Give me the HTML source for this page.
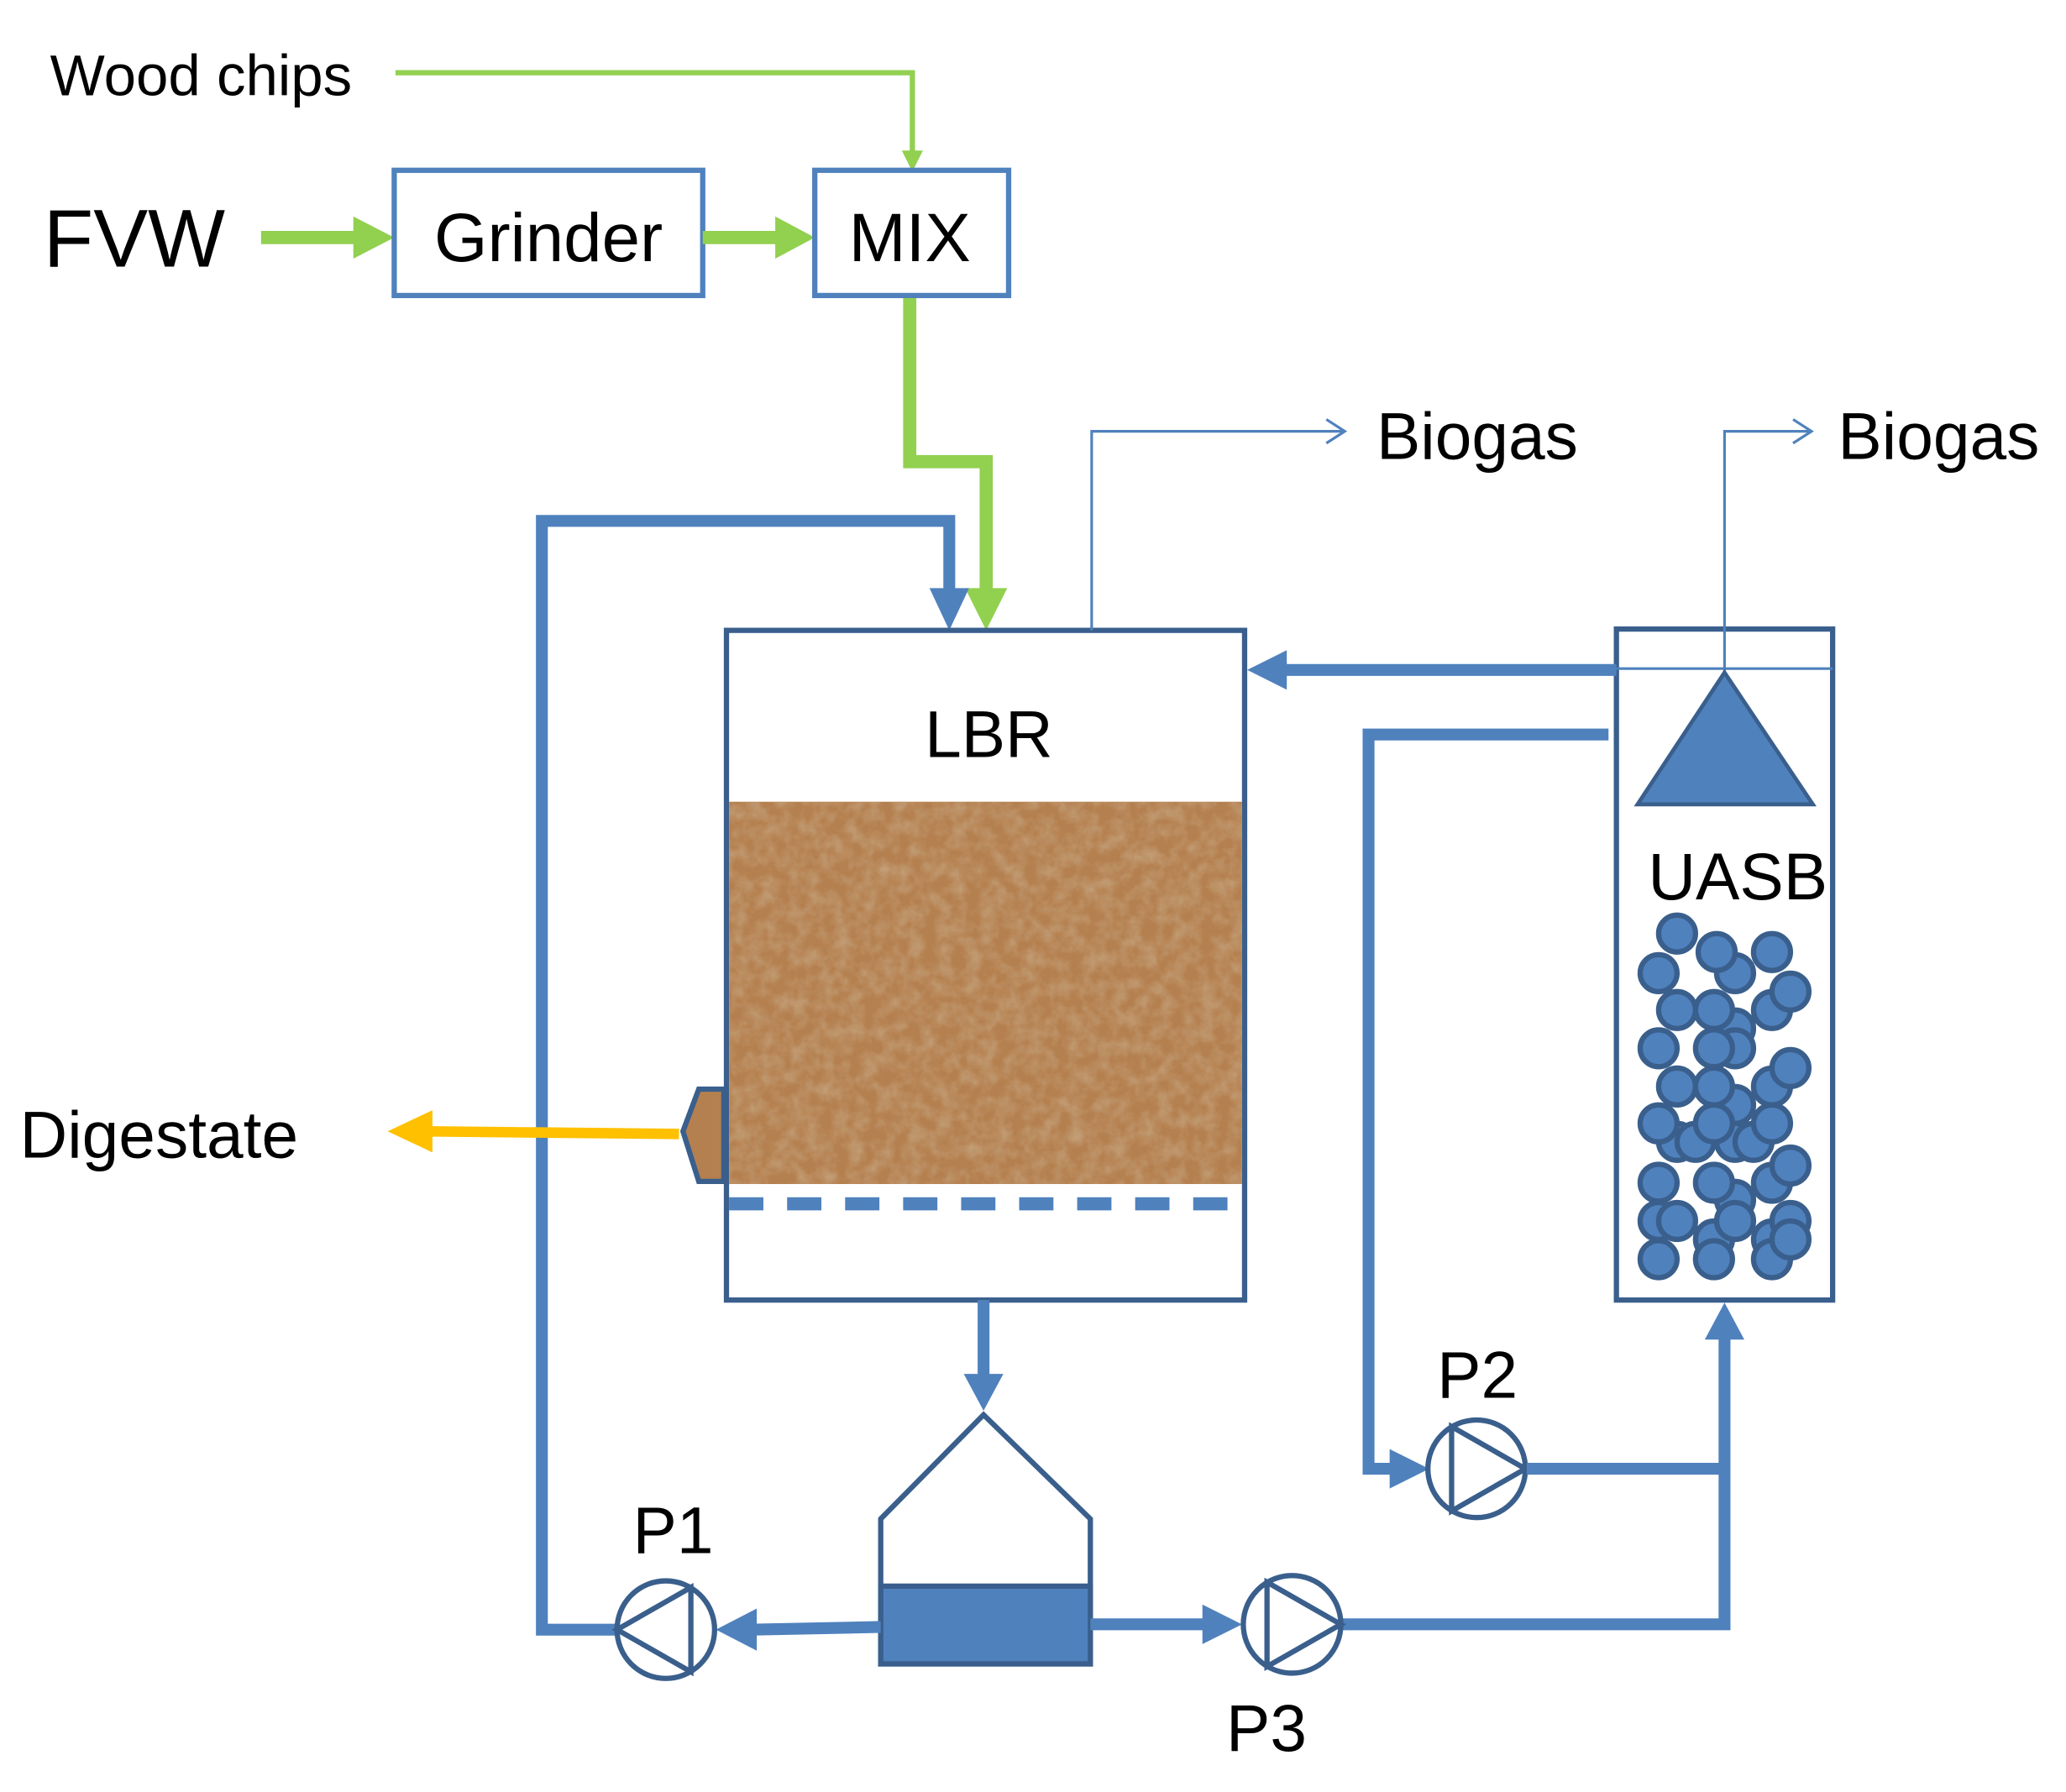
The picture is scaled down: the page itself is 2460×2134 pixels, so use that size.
<!DOCTYPE html>
<html><head><meta charset="utf-8"><style>
html,body{margin:0;padding:0;background:#fff}
svg{display:block}
text{font-family:"Liberation Sans","DejaVu Sans",sans-serif;fill:#000}
</style></head><body>
<svg width="2460" height="2134" viewBox="0 0 1567 1359" xmlns="http://www.w3.org/2000/svg">
<defs>
<filter id="tex" x="0" y="0" width="100%" height="100%">
<feTurbulence type="fractalNoise" baseFrequency="0.09" numOctaves="3" seed="4" result="n"/>
<feColorMatrix in="n" type="matrix" values="0 0 0 0 0.55  0 0 0 0 0.36  0 0 0 0 0.20  0 0 0 -1.6 1.05" result="c"/>
<feComposite in="c" in2="SourceGraphic" operator="in"/>
</filter>
</defs>
<text x="38" y="72" font-size="44">Wood chips</text>
<polyline points="300,55 692,55 692,118" fill="none" stroke="#92d050" stroke-width="4"/>
<polygon points="684,114 700,114 692,130" fill="#92d050"/>
<text x="33" y="202" font-size="62">FVW</text>
<line x1="198" y1="180" x2="272" y2="180" stroke="#92d050" stroke-width="10"/>
<polygon points="268,164 299,180 268,196" fill="#92d050"/>
<rect x="299" y="129" width="234" height="95" fill="#fff" stroke="#4f81bd" stroke-width="4"/>
<text x="416" y="198" font-size="52" text-anchor="middle">Grinder</text>
<line x1="533" y1="180" x2="592" y2="180" stroke="#92d050" stroke-width="10"/>
<polygon points="588,164 618,180 588,196" fill="#92d050"/>
<rect x="618" y="129" width="147" height="95" fill="#fff" stroke="#4f81bd" stroke-width="4"/>
<text x="690" y="198" font-size="52" text-anchor="middle">MIX</text>
<polyline points="690,226 690,350 748,350 748,452" fill="none" stroke="#92d050" stroke-width="10"/>
<polygon points="732,446 764,446 748,478" fill="#92d050"/>
<polyline points="470,1236 411,1236 411,395 720,395 720,452" fill="none" stroke="#4f81bd" stroke-width="9"/>
<polygon points="705,446 735,446 720,478" fill="#4f81bd"/>
<rect x="551" y="478" width="393" height="508" fill="#fff" stroke="#3a5f8c" stroke-width="4"/>
<rect x="553" y="608" width="389" height="290" fill="#b5804f"/>
<rect x="553" y="608" width="389" height="290" fill="#b5804f" filter="url(#tex)"/>
<text x="750" y="574" font-size="50" text-anchor="middle">LBR</text>
<line x1="553" y1="913" x2="942" y2="913" stroke="#4f81bd" stroke-width="10" stroke-dasharray="26,18"/>
<polygon points="549,826 530,826 518,858 530,896 549,896" fill="#b5804f" stroke="#3a5f8c" stroke-width="4"/>
<line x1="515" y1="860" x2="320" y2="858" stroke="#ffc000" stroke-width="8"/>
<polygon points="328,842 294,858 328,874" fill="#ffc000"/>
<text x="15" y="878" font-size="50">Digestate</text>
<polyline points="828,478 828,327 1018,327" fill="none" stroke="#4f81bd" stroke-width="2"/>
<polyline points="1006,318 1020,327 1006,336" fill="none" stroke="#4f81bd" stroke-width="2"/>
<text x="1044" y="348" font-size="50">Biogas</text>
<rect x="1226" y="477" width="164" height="509" fill="#fff" stroke="#3a5f8c" stroke-width="4"/>
<line x1="1226" y1="507" x2="1390" y2="507" stroke="#4f81bd" stroke-width="2"/>
<polyline points="1308,510 1308,327 1372,327" fill="none" stroke="#4f81bd" stroke-width="2"/>
<polyline points="1360,318 1374,327 1360,336" fill="none" stroke="#4f81bd" stroke-width="2"/>
<text x="1394" y="348" font-size="50">Biogas</text>
<polygon points="1242,610 1308,510 1375,610" fill="#4f81bd" stroke="#3a5f8c" stroke-width="3"/>
<text x="1250" y="682" font-size="50">UASB</text>
<g fill="#4f81bd" stroke="#3a5f8c" stroke-width="4">
<circle cx="1272" cy="708" r="14"/><circle cx="1316" cy="738" r="14"/><circle cx="1302" cy="722" r="14"/><circle cx="1344" cy="722" r="14"/>
<circle cx="1258" cy="738" r="14"/><circle cx="1344" cy="766" r="14"/><circle cx="1358" cy="752" r="14"/>
<circle cx="1272" cy="766" r="14"/><circle cx="1316" cy="780" r="14"/><circle cx="1300" cy="766" r="14"/>
<circle cx="1316" cy="795" r="14"/><circle cx="1300" cy="795" r="14"/><circle cx="1258" cy="795" r="14"/>
<circle cx="1344" cy="824" r="14"/><circle cx="1358" cy="810" r="14"/><circle cx="1272" cy="824" r="14"/>
<circle cx="1316" cy="838" r="14"/><circle cx="1300" cy="824" r="14"/>
<circle cx="1272" cy="866" r="14"/><circle cx="1286" cy="866" r="14"/><circle cx="1316" cy="866" r="14"/><circle cx="1330" cy="866" r="14"/>
<circle cx="1258" cy="852" r="14"/><circle cx="1300" cy="852" r="14"/><circle cx="1344" cy="852" r="14"/>
<circle cx="1316" cy="910" r="14"/><circle cx="1344" cy="897" r="14"/><circle cx="1358" cy="884" r="14"/>
<circle cx="1258" cy="897" r="14"/><circle cx="1300" cy="897" r="14"/>
<circle cx="1258" cy="926" r="14"/><circle cx="1300" cy="940" r="14"/><circle cx="1344" cy="940" r="14"/><circle cx="1358" cy="926" r="14"/>
<circle cx="1272" cy="926" r="14"/><circle cx="1316" cy="926" r="14"/>
<circle cx="1258" cy="955" r="14"/><circle cx="1300" cy="955" r="14"/><circle cx="1344" cy="955" r="14"/><circle cx="1358" cy="940" r="14"/>
</g>
<line x1="1226" y1="508" x2="972" y2="508" stroke="#4f81bd" stroke-width="9"/>
<polygon points="976,493 946,508 976,523" fill="#4f81bd"/>
<polyline points="1220,557 1038,557 1038,1114 1058,1114" fill="none" stroke="#4f81bd" stroke-width="9"/>
<polygon points="1054,1099 1084,1114 1054,1129" fill="#4f81bd"/>
<circle cx="1120" cy="1114" r="37" fill="#fff" stroke="#3a5f8c" stroke-width="4"/>
<polygon points="1101,1082 1157,1114 1101,1146" fill="none" stroke="#3a5f8c" stroke-width="4"/>
<text x="1090" y="1060" font-size="50">P2</text>
<polyline points="1158,1114 1308,1114" fill="none" stroke="#4f81bd" stroke-width="9"/>
<polyline points="1018,1232 1308,1232 1308,1012" fill="none" stroke="#4f81bd" stroke-width="9"/>
<polygon points="1293,1016 1308,988 1323,1016" fill="#4f81bd"/>
<line x1="746" y1="986" x2="746" y2="1046" stroke="#4f81bd" stroke-width="9"/>
<polygon points="731,1042 761,1042 746,1070" fill="#4f81bd"/>
<polygon points="668,1152 746,1073 827,1152 827,1262 668,1262" fill="#fff" stroke="#3a5f8c" stroke-width="4"/>
<rect x="668" y="1203" width="159" height="59" fill="#4f81bd" stroke="#3a5f8c" stroke-width="4"/>
<line x1="668" y1="1234" x2="570" y2="1236" stroke="#4f81bd" stroke-width="9"/>
<polygon points="574,1220 543,1236 574,1252" fill="#4f81bd"/>
<circle cx="505" cy="1236" r="37" fill="#fff" stroke="#3a5f8c" stroke-width="4"/>
<polygon points="524,1204 468,1236 524,1268" fill="none" stroke="#3a5f8c" stroke-width="4"/>
<text x="480" y="1178" font-size="50">P1</text>
<line x1="827" y1="1232" x2="916" y2="1232" stroke="#4f81bd" stroke-width="9"/>
<polygon points="912,1217 942,1232 912,1247" fill="#4f81bd"/>
<circle cx="980" cy="1232" r="37" fill="#fff" stroke="#3a5f8c" stroke-width="4"/>
<polygon points="961,1200 1017,1232 961,1264" fill="none" stroke="#3a5f8c" stroke-width="4"/>
<text x="930" y="1328" font-size="50">P3</text>
</svg>
</body></html>
